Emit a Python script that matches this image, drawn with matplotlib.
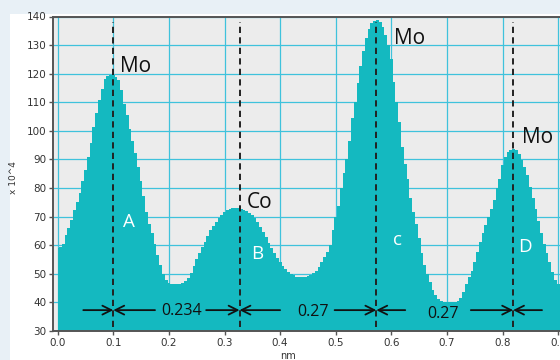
import numpy as np
import matplotlib
matplotlib.use("Agg")
import matplotlib.pyplot as plt
from matplotlib.patches import Rectangle

# ---- data ----
x_start = 0.0
x_step = 0.005
intensity = [
    59.0, 59.5, 60.3, 63.6, 65.9, 68.8, 72.3, 75.2, 78.2, 82.5,
    86.3, 90.8, 95.6, 101.2, 106.3, 110.8, 114.8, 118.0, 119.2, 119.7,
    119.7, 119.0, 117.8, 114.3, 109.5, 105.5, 100.7, 96.5, 92.3, 87.5,
    82.4, 77.2, 71.7, 67.5, 64.2, 60.5, 56.5, 53.0, 50.0, 48.0,
    46.8, 46.4, 46.3, 46.3, 46.5, 46.8, 47.4, 48.4, 50.3, 52.7,
    55.1, 57.4, 59.3, 61.2, 63.2, 65.4, 66.8, 68.1, 69.5, 70.6,
    71.5, 72.3, 72.7, 72.9, 72.9, 72.9, 72.8, 72.4, 71.9, 71.2,
    70.5, 69.4, 68.0, 66.5, 64.8, 62.8, 60.9, 59.2, 57.4, 55.7,
    54.2, 52.8, 51.6, 50.7, 50.0, 49.5, 49.0, 48.9, 48.8, 48.9,
    49.1, 49.6, 50.2, 51.1, 52.5, 54.2, 55.8, 57.8, 60.1, 65.5,
    69.8, 73.8, 80.0, 85.2, 90.3, 96.3, 104.4, 110.2, 116.6, 122.8,
    128.0, 132.5, 135.8, 137.6, 138.6, 138.7, 138.0, 136.5, 133.6, 130.0,
    125.0, 117.2, 110.2, 103.0, 94.5, 88.5, 83.0, 76.4, 71.7, 67.5,
    62.7, 57.2, 53.0, 49.8, 47.2, 44.5, 42.6, 41.2, 40.4, 40.0,
    40.0, 40.0, 40.0, 40.3, 40.6, 41.5, 43.5, 46.5, 48.8, 51.0,
    54.0, 57.8, 61.2, 64.2, 67.0, 70.0, 72.8, 75.8, 79.9, 83.0,
    88.0, 91.0, 92.7, 93.4, 93.6, 93.3, 91.8, 89.8, 87.5, 84.5,
    80.5, 76.4, 72.5, 68.5, 64.3, 60.5, 57.2, 54.2, 50.8, 48.0,
    46.3, 45.5,
]
peak_positions = [0.100, 0.327, 0.573, 0.819]
peak_labels = ["Mo", "Co", "Mo", "Mo"]
peak_label_xy = [(0.112, 122.6), (0.340, 74.8), (0.604, 132.4), (0.835, 97.8)]
site_labels = ["A", "B", "c", "D"]
site_label_xy = [(0.129, 68.1), (0.358, 56.9), (0.612, 61.8), (0.840, 59.4)]
distance_labels = ["0.234", "0.27", "0.27"]
distance_label_xy = [(0.222, 36.9), (0.459, 36.7), (0.693, 36.0)]
arrow_y = 37.3
arrow_tails = [(0.046, 0.175), (0.267, 0.400), (0.498, 0.625), (0.743, 0.871)]
x_ticks = [0.0, 0.1, 0.2, 0.3, 0.4, 0.5, 0.6, 0.7, 0.8, 0.9]
y_ticks = [30, 40, 50, 60, 70, 80, 90, 100, 110, 120, 130, 140]

x = x_start + x_step * np.arange(len(intensity))
y = np.array(intensity)

W, H = 560, 360
fig = plt.figure(figsize=(W / 100, H / 100), dpi=100, facecolor="#e8f0f6")
fig.patches.append(Rectangle((10 / W, 0), 1 - 10 / W, 1 - 14 / H,
                             transform=fig.transFigure, facecolor="white",
                             edgecolor="none", zorder=-5))

ax = fig.add_axes([53.3 / W, 1 - 331 / H, 510.4 / W, (331 - 16.5) / H])
ax.set_zorder(2)
ax.set_facecolor("#ececec")
ax.set_xlim(-0.0079, 0.91)
ax.set_ylim(30, 140)

grid_color = "#3fc2dc"
ax.set_xticks(x_ticks)
ax.set_yticks(y_ticks)
ax.grid(True, color=grid_color, linewidth=0.9)
ax.set_axisbelow(True)

ax.fill_between(x, 30, y, step="mid", color="#14b9c0", linewidth=0, zorder=2)

tick_font = dict(family=["Liberation Sans Narrow", "DejaVu Sans"], size=7.5)
ax.set_xticklabels([f"{t:.1f}" for t in x_ticks], **tick_font, color="#333333")
ax.set_yticklabels([str(t) for t in y_ticks], **tick_font, color="#333333")
ax.tick_params(axis="both", direction="out", length=3, width=1, color="#555555", pad=2)

for side in ["left", "bottom", "top"]:
    ax.spines[side].set_color("#555555")
    ax.spines[side].set_linewidth(1.4)
ax.spines["right"].set_visible(False)

for px in peak_positions:
    ax.plot([px, px], [31.3, 138.2], color="#222222", linewidth=1.4,
            linestyle=(0, (3.2, 2.2)), zorder=3)

label_font = ["Open Sans", "DejaVu Sans"]
for txt, (tx, ty) in zip(peak_labels, peak_label_xy):
    ax.text(tx, ty, txt, fontsize=15, family=label_font, color="#111111",
            ha="left", va="center", zorder=4)
for txt, (tx, ty) in zip(site_labels, site_label_xy):
    ax.text(tx, ty, txt, fontsize=13.5, family=label_font, color="white",
            ha="center", va="center", zorder=4)
for txt, (tx, ty) in zip(distance_labels, distance_label_xy):
    ax.text(tx, ty, txt, fontsize=11.5, family=label_font, color="#111111",
            ha="center", va="center", zorder=4)

for px, (left_tail, right_tail) in zip(peak_positions, arrow_tails):
    for tail in (left_tail, right_tail):
        ax.annotate("", xy=(px, arrow_y), xytext=(tail, arrow_y),
                    arrowprops=dict(arrowstyle="->", color="#111111", lw=1.3,
                                    mutation_scale=16, shrinkA=0, shrinkB=0),
                    zorder=4)

fig.text(14 / W, 1 - 178 / H, "x 10^4", rotation=90, fontsize=6.5,
         family=["Liberation Sans Narrow", "DejaVu Sans"], color="#333333",
         ha="center", va="center", zorder=3)
fig.text(288 / W, 1 - 356 / H, "nm", fontsize=7,
         family=["Liberation Sans Narrow", "DejaVu Sans"], color="#333333",
         ha="center", va="center", zorder=3)

fig.savefig("out.png", dpi=100, facecolor=fig.get_facecolor())
